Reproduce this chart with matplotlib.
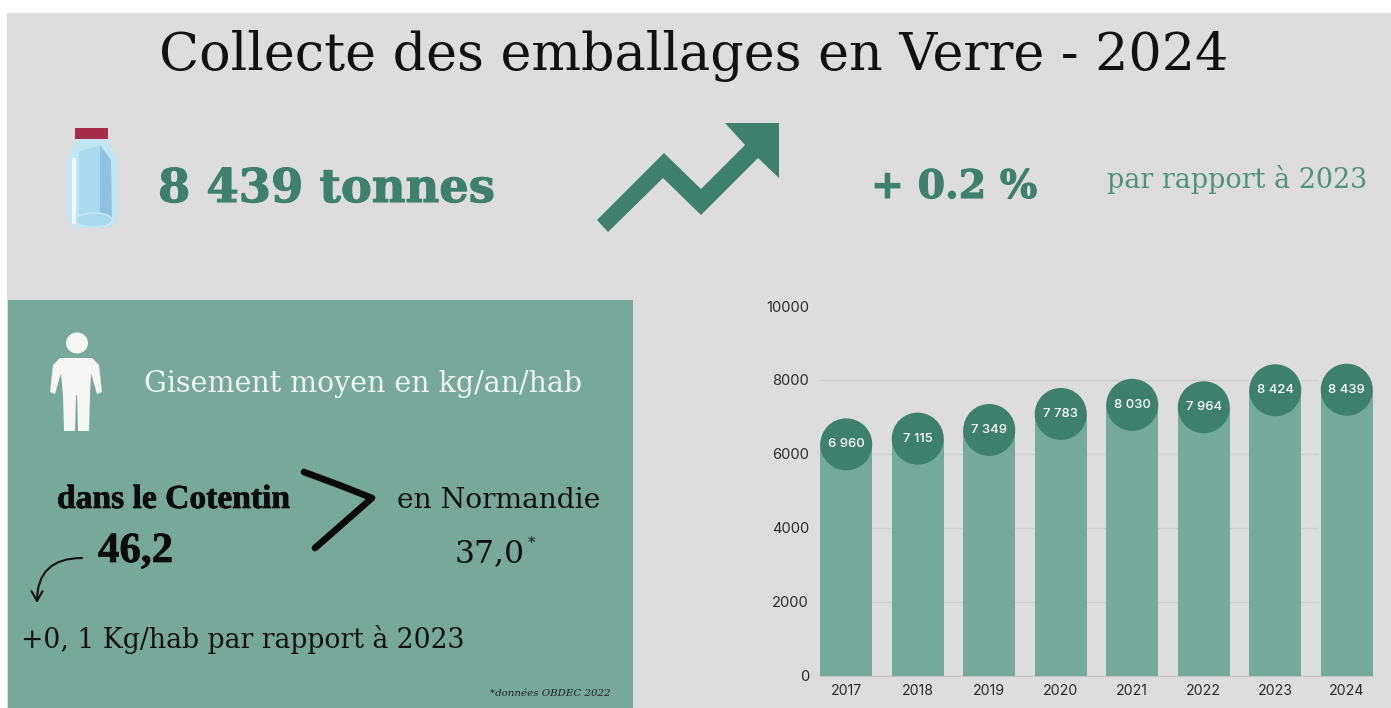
import matplotlib
matplotlib.use("Agg")
import matplotlib.pyplot as plt
import matplotlib.patheffects as pe
from matplotlib.patches import Rectangle, Ellipse, Polygon, FancyArrowPatch

years = ["2017", "2018", "2019", "2020", "2021", "2022", "2023", "2024"]
tonnes = [6960, 7115, 7349, 7783, 8030, 7964, 8424, 8439]
labels = ["6 960", "7 115", "7 349", "7 783", "8 030", "7 964", "8 424", "8 439"]
yticks = [0, 2000, 4000, 6000, 8000, 10000]
grid_levels = [2000, 4000, 6000, 8000]

W, H = 1391, 708
BG = "#dddddd"
PANEL = "#76a999"
BAR = "#74aa99"
DARK = "#3d806b"
SERIF = "DejaVu Serif"
NARROW = "Liberation Serif"

fig = plt.figure(figsize=(W / 100, H / 100), dpi=100, facecolor="white")
px = fig.add_axes([0, 0, 1, 1])
px.set_xlim(0, W)
px.set_ylim(H, 0)
px.axis("off")

px.add_patch(Rectangle((7, 13), W - 7, H - 13, fc=BG, ec="none"))
px.add_patch(Rectangle((8, 300), 625, 408, fc=PANEL, ec="none"))


def fit(x, y, s, width, size, **kw):
    t = px.text(x, y, s, ha="left", va="baseline", fontsize=size, **kw)
    r = fig.canvas.get_renderer()
    w = t.get_window_extent(r).width
    t.set_fontsize(size * width / w)
    return t


def heavy(t, lw, color):
    t.set_path_effects([pe.withStroke(linewidth=lw, foreground=color)])


fit(159, 70, "Collecte des emballages en Verre - 2024", 1069, 40, family=SERIF, color="#111111")
heavy(fit(158, 202, "8 439 tonnes", 337, 34, family=SERIF, weight="bold", color=DARK), 0.8, DARK)
heavy(fit(871, 198, "+ 0.2 %", 166, 30, family=SERIF, weight="bold", color=DARK), 0.8, DARK)
fit(1107, 188, "par rapport à 2023", 261, 16, family=SERIF, color="#4f937d")
fit(144, 392, "Gisement moyen en kg/an/hab", 440, 18, family=SERIF, color="#eef4f1")
heavy(fit(57, 508, "dans le Cotentin", 233, 20, family=NARROW, weight="bold", color="#0c0c0c"), 0.5, "#0c0c0c")
fit(397, 508, "en Normandie", 204, 17, family=SERIF, color="#111111")
heavy(fit(98, 562, "46,2", 75, 24, family=NARROW, weight="bold", color="#0c0c0c"), 0.5, "#0c0c0c")
fit(455, 562, "37,0", 70, 20, family=SERIF, color="#111111")
px.text(528, 547, "*", fontsize=11, family=SERIF, color="#111111", ha="left", va="baseline")
fit(21, 648, "+0, 1 Kg/hab par rapport à 2023", 443, 17, family=SERIF, color="#111111")
fit(490, 696, "*données OBDEC 2022", 121, 6, family=SERIF, style="italic", color="#222222")

# rising arrow
px.add_patch(Polygon([(597, 220), (664, 153), (701, 189), (745, 145), (725, 123), (779, 123),
                      (779, 178), (758, 158), (701, 215), (663, 178), (608, 232)],
                     fc=DARK, ec="none"))

# bottle
px.add_patch(Rectangle((75, 128), 33, 11, fc="#a42b49", ec="none"))
px.add_patch(Polygon([(76, 139), (107, 139), (117, 158), (117, 222), (110, 228), (76, 228),
                      (68, 222), (68, 158)], fc="#c0e5f3", ec="none"))
px.add_patch(Polygon([(79, 152), (100, 145), (100, 214), (79, 214)], fc="#aadaf0", ec="none"))
px.add_patch(Polygon([(100, 145), (111, 160), (112, 218), (100, 212)], fc="#8fc2e2", ec="none"))
px.add_patch(Rectangle((72, 158), 4, 66, fc="#eef8fb", ec="none"))
px.add_patch(Ellipse((94, 220), 36, 14, fc="#a8d8ec", ec="#cbe9f4", lw=1))

# person
WHITE = "#f6f7f5"
px.add_patch(Ellipse((77, 343), 22, 21, fc=WHITE, ec="none"))
px.add_patch(Polygon([(60, 358), (92, 358), (99, 365), (102, 392), (97, 394), (91, 373), (90, 395),
                      (89, 431), (78, 431), (77, 395), (76, 395), (75, 431), (64, 431), (63, 395),
                      (61, 373), (55, 394), (50, 392), (53, 365)], fc=WHITE, ec="none"))

# hand-drawn ">" sign
px.plot([304, 339, 372, 315], [472, 485, 498, 548], color="#0a0a0a", lw=4.8,
        solid_capstyle="round", solid_joinstyle="round")

# curved arrow
px.add_patch(FancyArrowPatch((82, 558), (37, 603), connectionstyle="angle3,angleA=0,angleB=90",
                             arrowstyle="->,head_length=7,head_width=4", lw=1.5, color="#111111",
                             shrinkA=0, shrinkB=0))

# bar chart
ax = fig.add_axes([820 / W, 1 - 675.6 / H, 553 / W, (675.6 - 306) / H], zorder=2)
ax.patch.set_alpha(0)
ax.set_xlim(-0.367, 7.367)
ax.set_ylim(0, 10000)
xs = list(range(len(years)))

# value badges: circle tops sit on each value, bars stop behind the badge centre
h_data = 52 / (369.6 / 10000)
w_data = 52 / 71.5
centres = [v - h_data / 2 for v in tonnes]

ax.bar(xs, centres, width=0.734, color=BAR, zorder=2)
ax.hlines(grid_levels, -0.367, 6.6, color="#cfcfcf", lw=1, zorder=1)
ax.set_yticks(yticks)
ax.set_yticklabels([str(v) for v in yticks])
ax.set_xticks(xs)
ax.set_xticklabels(years)
ax.tick_params(length=0, labelsize=10.6, labelcolor="#2a2a2a")
ax.tick_params(axis="y", pad=8)
ax.tick_params(axis="x", labelsize=10.2, pad=6)
for lab in ax.get_xticklabels() + ax.get_yticklabels():
    lab.set_family("Inter")
for s in ("top", "right", "left"):
    ax.spines[s].set_visible(False)
ax.spines["bottom"].set_color("#c4c4c4")

for x, cy, lab in zip(xs, centres, labels):
    ax.add_patch(Ellipse((x, cy), w_data, h_data, fc=DARK, ec="none", zorder=3))
    ax.text(x, cy, lab, ha="center", va="center", fontsize=9.4, family="Inter", weight="medium",
            color="white", zorder=4)

fig.savefig("out.png", dpi=100, facecolor="white")
